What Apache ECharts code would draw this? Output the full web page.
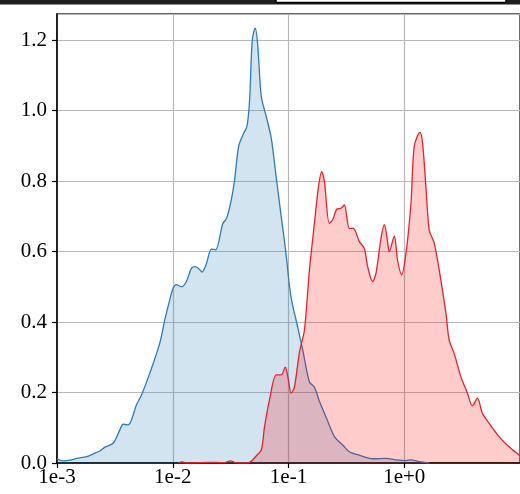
<!DOCTYPE html>
<html>
<head>
<meta charset="utf-8">
<script src="https://cdn.jsdelivr.net/npm/echarts@6/dist/echarts.min.js"></script>
<style>
html,body{margin:0;padding:0;background:#fff;}
#chart{width:520px;height:494px;}
</style>
</head>
<body>
<div id="chart"></div>
<script>
// x positions given as log10(x); y = density
const blueLog10X = [-3.000,-2.946,-2.873,-2.830,-2.744,-2.687,-2.629,-2.586,-2.515,-2.457,-2.428,-2.385,-2.313,-2.270,-2.198,-2.112,-2.069,-2.026,-1.997,-1.968,-1.925,-1.882,-1.839,-1.806,-1.782,-1.746,-1.710,-1.666,-1.629,-1.569,-1.534,-1.494,-1.466,-1.431,-1.394,-1.359,-1.336,-1.313,-1.287,-1.265,-1.235,-1.192,-1.149,-1.106,-1.063,-1.020,-0.991,-0.966,-0.934,-0.877,-0.819,-0.776,-0.733,-0.675,-0.603,-0.532,-0.474,-0.388,-0.273,-0.158,-0.072,0.015,0.060,0.129,0.216];
const blueY = [0.011,0.006,0.009,0.013,0.018,0.026,0.034,0.045,0.056,0.094,0.110,0.108,0.165,0.193,0.255,0.340,0.406,0.463,0.496,0.506,0.500,0.515,0.552,0.557,0.553,0.542,0.565,0.607,0.605,0.678,0.695,0.747,0.803,0.898,0.931,0.955,1.030,1.200,1.234,1.182,1.040,0.983,0.922,0.810,0.700,0.590,0.500,0.450,0.405,0.321,0.230,0.215,0.175,0.130,0.075,0.051,0.032,0.022,0.012,0.013,0.009,0.007,0.009,0.004,0.000];

const redLog10X = [-1.950,-1.920,-1.880,-1.700,-1.560,-1.500,-1.460,-1.400,-1.336,-1.279,-1.235,-1.207,-1.164,-1.106,-1.063,-1.028,-1.006,-0.977,-0.948,-0.905,-0.862,-0.819,-0.776,-0.741,-0.713,-0.690,-0.647,-0.618,-0.584,-0.546,-0.517,-0.497,-0.474,-0.440,-0.388,-0.345,-0.316,-0.273,-0.244,-0.201,-0.172,-0.144,-0.129,-0.086,-0.058,-0.023,0.015,0.058,0.086,0.135,0.158,0.187,0.216,0.259,0.302,0.360,0.388,0.431,0.489,0.546,0.589,0.632,0.675,0.733,0.819,0.905,0.991,1.000];
const redY = [0.000,0.003,0.000,0.002,0.001,0.006,0.001,0.000,0.002,0.020,0.037,0.103,0.179,0.250,0.250,0.272,0.245,0.198,0.217,0.315,0.378,0.548,0.680,0.784,0.827,0.799,0.680,0.690,0.720,0.723,0.732,0.699,0.666,0.666,0.628,0.609,0.557,0.515,0.539,0.638,0.676,0.628,0.600,0.644,0.576,0.534,0.595,0.737,0.898,0.938,0.908,0.784,0.661,0.624,0.548,0.425,0.349,0.311,0.245,0.198,0.162,0.184,0.141,0.113,0.075,0.046,0.023,0.021];

const yTicks = ['0.0','0.2','0.4','0.6','0.8','1.0','1.2'];

function pairs(lx, ys){ return lx.map((l,i)=>[Math.pow(10,l), ys[i]]); }

const chart = echarts.init(document.getElementById('chart'), null, {renderer:'canvas'});
const serif = '"Liberation Serif","DejaVu Serif",serif';
chart.setOption({
  animation:false,
  backgroundColor:'#ffffff',
  grid:{left:57, top:14, width:464, height:449, show:true, borderColor:'#333', borderWidth:1.5, backgroundColor:'transparent'},
  xAxis:{
    type:'log', logBase:10, min:0.001, max:10,
    axisLine:{show:true, onZero:false, lineStyle:{color:'#000', width:1.5}},
    axisTick:{show:true, inside:false, length:5, lineStyle:{color:'#000', width:1.2}},
    axisLabel:{show:true, showMaxLabel:false, margin:4, fontFamily:serif, fontSize:21, color:'#000',
      formatter:function(v){ const e=Math.round(Math.log10(v)); return '1e'+(e>=0?'+':'-')+Math.abs(e); }},
    splitLine:{show:true, lineStyle:{color:'#b8b8b8', width:1.2}},
    minorTick:{show:false}, minorSplitLine:{show:false}
  },
  yAxis:{
    type:'value', min:0, max:1.274, interval:0.2,
    axisLine:{show:true, lineStyle:{color:'#000', width:1.5}},
    axisTick:{show:true, inside:false, length:5, lineStyle:{color:'#000', width:1.2}},
    axisLabel:{show:true, showMaxLabel:false, margin:10, fontFamily:serif, fontSize:21, color:'#000',
      formatter:function(v){ const i=Math.round(v/0.2); return (Math.abs(v-i*0.2)<1e-6 && yTicks[i]) ? yTicks[i] : ''; }},
    splitLine:{show:true, lineStyle:{color:'#b8b8b8', width:1.2}}
  },
  series:[
    {type:'line', data:pairs(blueLog10X, blueY), showSymbol:false, smooth:0.3,
     lineStyle:{color:'#2f7ab5', width:1.3}, areaStyle:{color:'rgba(31,119,180,0.2)', opacity:1}, z:2},
    {type:'line', data:pairs(redLog10X, redY), showSymbol:false, smooth:0.3,
     lineStyle:{color:'#e3222b', width:1.3}, areaStyle:{color:'rgba(255,0,0,0.2)', opacity:1}, z:3}
  ],
  graphic:[
    {type:'rect', shape:{x:0, y:0, width:520, height:4.5}, style:{fill:'#1e1e1e'}, z:100},
    {type:'rect', shape:{x:276, y:-4, width:230, height:6.5}, style:{fill:'#ffffff', stroke:'#000', lineWidth:1.5}, z:101}
  ]
});
</script>
</body>
</html>
